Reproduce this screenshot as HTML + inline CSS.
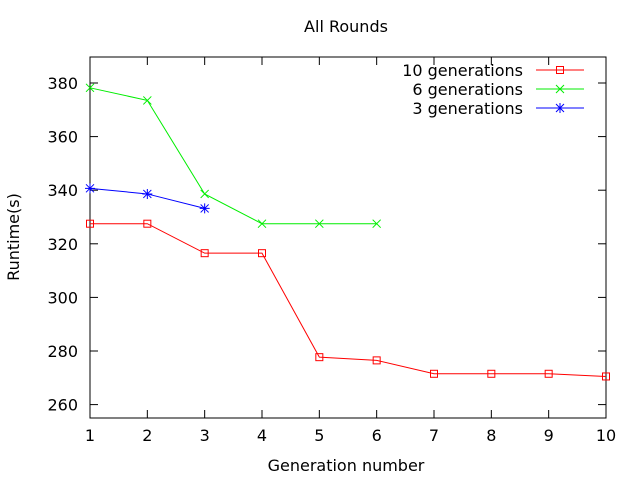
<!DOCTYPE html>
<html><head><meta charset="utf-8"><style>
body{margin:0;background:#fff;}
svg{display:block;font-family:"DejaVu Sans","Liberation Sans",sans-serif;}
</style></head><body>
<svg id="chart" width="640" height="480">
<text x="346" y="32" font-size="16" text-anchor="middle">All Rounds</text>
<text x="346" y="471" font-size="16" text-anchor="middle">Generation number</text>
<text transform="translate(19,237) rotate(-90)" font-size="16" text-anchor="middle">Runtime(s)</text>
<g id="axes"></g>
<g id="series"></g>
<g id="legend"></g>
</svg>
<script>
const xCategories=[1,2,3,4,5,6,7,8,9,10];
const yTicks=[260,280,300,320,340,360,380];
const red10=[327.5,327.5,316.5,316.5,277.7,276.5,271.5,271.5,271.5,270.5];
const green6=[378.2,373.5,338.6,327.5,327.5,327.5];
const blue3=[340.7,338.6,333.2];
const seriesNames=["10 generations","6 generations","3 generations"];
const ns="http://www.w3.org/2000/svg";
const L=90,R=606,T=57,B=418,yMin=255,yMax=389.7;
function sx(v){return L+(v-1)*(R-L)/9;}
function sy(v){return B-(v-yMin)*(B-T)/(yMax-yMin);}
function mk(tag,attrs,parent){const e=document.createElementNS(ns,tag);for(const k in attrs)e.setAttribute(k,attrs[k]);parent.appendChild(e);return e;}
const axes=document.getElementById('axes');
const fr=mk('rect',{x:L,y:T,width:R-L,height:B-T,fill:'none',stroke:'#000','stroke-width':1},axes);


yTicks.forEach(v=>{const y=sy(v);
 mk('line',{x1:L,x2:L+8,y1:y,y2:y,stroke:'#000'},axes);
 mk('line',{x1:R,x2:R-8,y1:y,y2:y,stroke:'#000'},axes);
 const t=mk('text',{x:L-12,y:y+6,'font-size':16,'text-anchor':'end'},axes);t.textContent=v;
 
 
});
xCategories.forEach(v=>{const x=sx(v);
 mk('line',{x1:x,x2:x,y1:B,y2:B-8,stroke:'#000'},axes);
 mk('line',{x1:x,x2:x,y1:T,y2:T+8,stroke:'#000'},axes);
 const t=mk('text',{x:x,y:B+23,'font-size':16,'text-anchor':'middle'},axes);t.textContent=v;
 
 
});
function marker(g,type,x,y,c){
 if(type==='sq')mk('rect',{x:x-3.5,y:y-3.5,width:7,height:7,fill:'none',stroke:c},g);
 else if(type==='x'){mk('path',{d:`M${x-4} ${y-4}L${x+4} ${y+4}M${x-4} ${y+4}L${x+4} ${y-4}`,stroke:c},g);}
 else {mk('path',{d:`M${x-4} ${y-4}L${x+4} ${y+4}M${x-4} ${y+4}L${x+4} ${y-4}M${x} ${y-5}L${x} ${y+5}M${x-5} ${y}L${x+5} ${y}`,stroke:c},g);}
}
const sg=document.getElementById('series');
const defs=[[red10,'#ff0000','sq','series-10-generations'],[green6,'#00ee00','x','series-6-generations'],[blue3,'#0000ff','st','series-3-generations']];
defs.forEach(([data,c,m,name])=>{
 const g=mk('g',{},sg);
 
 
 mk('polyline',{points:data.map((v,i)=>sx(xCategories[i])+','+sy(v)).join(' '),fill:'none',stroke:c,'stroke-width':1},g);
 data.forEach((v,i)=>marker(g,m,sx(xCategories[i]),sy(v),c));
});
const lg=document.getElementById('legend');
defs.forEach(([d,c,m],i)=>{const y=70+i*19;
 const g=mk('g',{},lg);
 
 
 const t=mk('text',{x:523,y:y+6,'font-size':16,'text-anchor':'end'},g);t.textContent=seriesNames[i];
 mk('line',{x1:536,x2:584,y1:y,y2:y,stroke:c},g);
 marker(g,m,560,y,c);
});
</script>
</body></html>
